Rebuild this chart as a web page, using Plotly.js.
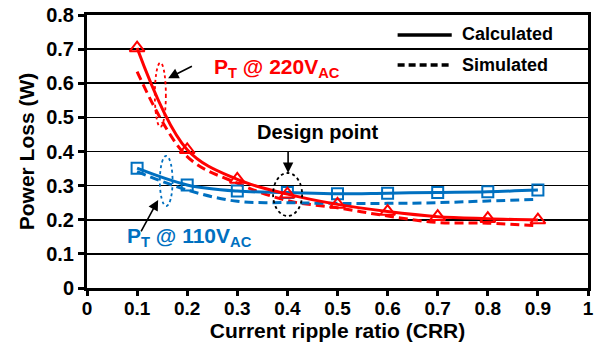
<!DOCTYPE html>
<html>
<head>
<meta charset="utf-8">
<script src="https://cdn.plot.ly/plotly-3.0.1.min.js"></script>
<style>html,body{margin:0;padding:0;background:#fff;}#chart{width:606px;height:352px;}</style>
</head>
<body>
<div id="chart"></div>
<script>
// Data
var crr = [0.1, 0.2, 0.3, 0.4, 0.5, 0.6, 0.7, 0.8, 0.9];
var p220Calculated = [0.703, 0.405, 0.318, 0.275, 0.245, 0.224, 0.209, 0.203, 0.199];
var p220Simulated  = [0.634, 0.385, 0.307, 0.256, 0.235, 0.211, 0.192, 0.190, 0.182];
var p110Calculated = [0.351, 0.302, 0.284, 0.280, 0.276, 0.278, 0.280, 0.282, 0.287];
var p110Simulated  = [0.341, 0.287, 0.254, 0.250, 0.248, 0.248, 0.250, 0.255, 0.260];
var xTicks = [0, 0.1, 0.2, 0.3, 0.4, 0.5, 0.6, 0.7, 0.8, 0.9, 1];
var xTickText = ['0', '0.1', '0.2', '0.3', '0.4', '0.5', '0.6', '0.7', '0.8', '0.9', '1'];
var yTicks = [0, 0.1, 0.2, 0.3, 0.4, 0.5, 0.6, 0.7, 0.8];
var yTickText = ['0', '0.1', '0.2', '0.3', '0.4', '0.5', '0.6', '0.7', '0.8'];

var RED = '#FF0000', BLUE = '#0070C0';
var FONT = 'Liberation Sans, Arial, sans-serif';

var traces = [
  {x: crr, y: p220Simulated, mode: 'lines', line: {color: RED, width: 3, dash: '9px,5px', shape: 'spline', smoothing: 1}, showlegend: false},
  {x: crr, y: p110Simulated, mode: 'lines', line: {color: BLUE, width: 3, dash: '9px,5px', shape: 'spline', smoothing: 1}, showlegend: false},
  {x: crr, y: p110Calculated, mode: 'lines+markers', line: {color: BLUE, width: 3, shape: 'spline', smoothing: 1},
   marker: {symbol: 'square-open', size: 11, color: BLUE, line: {width: 2, color: BLUE}}, showlegend: false},
  {x: crr, y: p220Calculated, mode: 'lines+markers', line: {color: RED, width: 3, shape: 'spline', smoothing: 1},
   marker: {symbol: 'triangle-up-open', size: 13, color: RED, line: {width: 2, color: RED}}, showlegend: false}
];

var shapes = [
  // ellipses
  {type: 'circle', xref: 'x', yref: 'y', x0: 0.1354, x1: 0.1574, y0: 0.472, y1: 0.660, line: {color: RED, width: 1.8, dash: 'dot'}},
  {type: 'circle', xref: 'x', yref: 'y', x0: 0.1454, x1: 0.1708, y0: 0.240, y1: 0.387, line: {color: BLUE, width: 1.8, dash: 'dot'}},
  {type: 'circle', xref: 'x', yref: 'y', x0: 0.3714, x1: 0.4294, y0: 0.211, y1: 0.337, line: {color: '#000', width: 1.8, dash: 'dot'}},
  // legend lines
  {type: 'line', xref: 'paper', yref: 'paper', x0: 0.620, x1: 0.728, y0: 0.927, y1: 0.927, line: {color: '#000', width: 3.5}},
  {type: 'line', xref: 'paper', yref: 'paper', x0: 0.620, x1: 0.728, y0: 0.817, y1: 0.817, line: {color: '#000', width: 3.5, dash: '7px,4px'}}
];

var annotations = [
  {xref: 'x', yref: 'y', x: 0.3796, y: 0.645, text: 'P<sub>T</sub> @ 220V<sub>AC</sub>', showarrow: false,
   font: {family: FONT, size: 21, color: RED, weight: 'bold'}},
  {xref: 'x', yref: 'y', x: 0.2054, y: 0.150, text: 'P<sub>T</sub> @ 110V<sub>AC</sub>', showarrow: false,
   font: {family: FONT, size: 21, color: BLUE, weight: 'bold'}},
  {xref: 'x', yref: 'y', x: 0.4594, y: 0.457, text: 'Design point', showarrow: false,
   font: {family: FONT, size: 20, color: '#000', weight: 'bold'}},
  // arrows
  {xref: 'x', yref: 'y', axref: 'x', ayref: 'y', x: 0.162, y: 0.615, ax: 0.2154, ay: 0.654, text: ' ', showarrow: true,
   arrowhead: 2, arrowsize: 1.3, arrowwidth: 1.6, arrowcolor: '#000'},
  {xref: 'x', yref: 'y', axref: 'x', ayref: 'y', x: 0.142, y: 0.258, ax: 0.102, ay: 0.150, text: ' ', showarrow: true,
   arrowhead: 2, arrowsize: 1.3, arrowwidth: 1.6, arrowcolor: '#000'},
  {xref: 'x', yref: 'y', axref: 'x', ayref: 'y', x: 0.4014, y: 0.337, ax: 0.4014, ay: 0.425, text: ' ', showarrow: true,
   arrowhead: 2, arrowsize: 1.3, arrowwidth: 1.6, arrowcolor: '#000'},
  // legend text
  {xref: 'paper', yref: 'paper', x: 0.744, y: 0.931, xanchor: 'left', yanchor: 'middle', text: 'Calculated', showarrow: false,
   font: {family: FONT, size: 18, color: '#000', weight: 'bold'}},
  {xref: 'paper', yref: 'paper', x: 0.744, y: 0.817, xanchor: 'left', yanchor: 'middle', text: 'Simulated', showarrow: false,
   font: {family: FONT, size: 18, color: '#000', weight: 'bold'}}
];

var layout = {
  width: 606, height: 352,
  margin: {l: 87, r: 18, t: 15, b: 64},
  paper_bgcolor: '#fff', plot_bgcolor: '#fff',
  showlegend: false,
  font: {family: FONT, color: '#000'},
  xaxis: {
    range: [0, 1], tickmode: 'array', tickvals: xTicks, ticktext: xTickText,
    showgrid: false, zeroline: false, showline: true, linecolor: '#000', linewidth: 3, mirror: true,
    ticks: 'outside', ticklen: 5, tickwidth: 3, tickcolor: '#000', ticklabelstandoff: -4,
    tickfont: {family: FONT, size: 19, color: '#000', weight: 'bold'},
    title: {text: 'Current ripple ratio (CRR)', font: {family: FONT, size: 21, color: '#000', weight: 'bold'}, standoff: 2}
  },
  yaxis: {
    range: [0, 0.8], tickmode: 'array', tickvals: yTicks, ticktext: yTickText,
    showgrid: true, gridcolor: '#000', gridwidth: 1.6, zeroline: false,
    showline: true, linecolor: '#000', linewidth: 3, mirror: true,
    ticks: 'outside', ticklen: 6, tickwidth: 3, tickcolor: '#000',
    tickfont: {family: FONT, size: 20, color: '#000', weight: 'bold'},
    title: {text: 'Power Loss (W)', font: {family: FONT, size: 21, color: '#000', weight: 'bold'}, standoff: 6}
  },
  shapes: shapes,
  annotations: annotations
};

Plotly.newPlot('chart', traces, layout, {staticPlot: true, displayModeBar: false});
</script>
</body>
</html>
